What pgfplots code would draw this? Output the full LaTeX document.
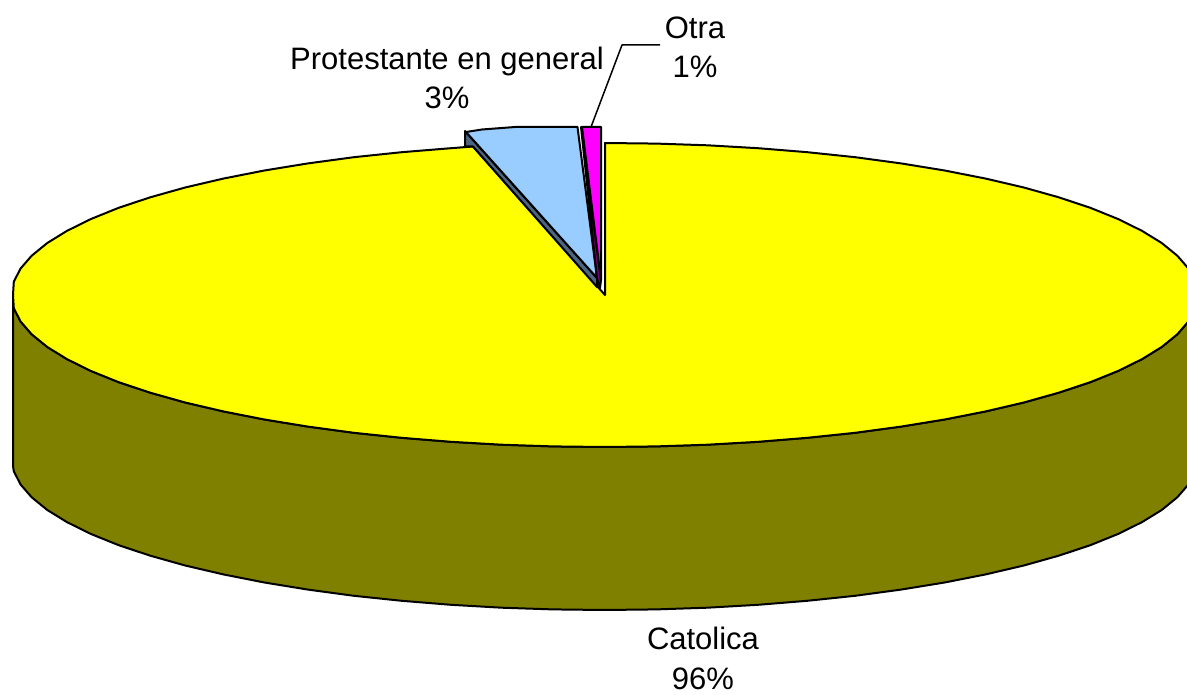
\documentclass[border=0pt]{standalone}
\usepackage{fontspec}
\setmainfont{Liberation Sans}
\usepackage{pgfplots}
\pgfplotsset{compat=1.18}
\definecolor{catTop}{RGB}{255,255,0}
\definecolor{catSide}{RGB}{128,128,0}
\definecolor{proTop}{RGB}{153,204,255}
\definecolor{proSide}{RGB}{77,102,128}
\definecolor{otrTop}{RGB}{255,0,255}
\definecolor{otrSide}{RGB}{128,0,128}

\begin{document}
\begin{tikzpicture}
\path[use as bounding box] (0,0) rectangle (1187pt,695pt);
\begin{axis}[
    scale only axis,
    width=1187pt,
    height=695pt,
    xmin=0, xmax=1187,
    ymin=0, ymax=695,
    y dir=reverse,
    hide axis,
    clip=true,
    every axis plot/.append style={draw=black, line width=2pt, line join=round},
]
% side wall of the large slice
\addplot[fill=catSide] coordinates {
    (13,295) (13.8,308.2) (20.5,321.4) (31.7,334.3) (47.3,347) (67.1,359.2) (91,371)
    (118.7,382.2) (150.3,392.7) (185.2,402.5) (223.3,411.4) (264.4,419.5) (308,426.6)
    (353.9,432.8) (401.7,437.8) (451,441.8) (501.6,444.7) (552.8,446.4) (604.5,447)
    (656.2,446.4) (707.4,444.7) (758,441.8) (807.3,437.8) (855.1,432.8) (901,426.6)
    (944.6,419.5) (985.7,411.4) (1023.8,402.5) (1058.7,392.7) (1090.3,382.2) (1118,371)
    (1141.9,359.2) (1161.7,347) (1177.3,334.3) (1188.5,321.4) (1195.2,308.2) (1197.5,295)
    (1197.5,458) (1195.2,471.2) (1188.5,484.4) (1177.3,497.3) (1161.7,510) (1141.9,522.2)
    (1118,534) (1090.3,545.2) (1058.7,555.7) (1023.8,565.5) (985.7,574.4) (944.6,582.5)
    (901,589.6) (855.1,595.8) (807.3,600.8) (758,604.8) (707.4,607.7) (656.2,609.4)
    (604.5,610) (552.8,609.4) (501.6,607.7) (451,604.8) (401.7,600.8) (353.9,595.8)
    (308,589.6) (264.4,582.5) (223.3,574.4) (185.2,565.5) (150.3,555.7) (118.7,545.2)
    (91,534) (67.1,522.2) (47.3,510) (31.7,497.3) (20.5,484.4) (13.8,471.2) (13,466)
} -- cycle;
% top of the large slice
\addplot[fill=catTop] coordinates {
    (605,295) (605,143) (656.2,143.6) (707.4,145.3) (758,148.2) (807.3,152.2) (855.1,157.2)
    (901,163.4) (944.6,170.5) (985.7,178.6) (1023.8,187.5) (1058.7,197.3) (1090.3,207.8)
    (1118,219) (1141.9,230.8) (1161.7,243) (1177.3,255.7) (1188.5,268.6) (1195.2,281.8)
    (1197.5,295) (1195.2,308.2) (1188.5,321.4) (1177.3,334.3) (1161.7,347) (1141.9,359.2)
    (1118,371) (1090.3,382.2) (1058.7,392.7) (1023.8,402.5) (985.7,411.4) (944.6,419.5)
    (901,426.6) (855.1,432.8) (807.3,437.8) (758,441.8) (707.4,444.7) (656.2,446.4)
    (604.5,447) (552.8,446.4) (501.6,444.7) (451,441.8) (401.7,437.8) (353.9,432.8)
    (308,426.6) (264.4,419.5) (223.3,411.4) (185.2,402.5) (150.3,392.7) (118.7,382.2)
    (91,371) (67.1,359.2) (47.3,347) (31.7,334.3) (20.5,321.4) (13.8,308.2) (13,295)
    (13.8,281.8) (20.5,268.6) (31.7,255.7) (47.3,243) (67.1,230.8) (91,219) (118.7,207.8)
    (150.3,197.3) (185.2,187.5) (223.3,178.6) (264.4,170.5) (308,163.4) (353.9,157.2)
    (401.7,152.2) (451,148.2) (473,146.5)
} -- cycle;
% protestante slice
\addplot[fill=proSide] coordinates {(465,131) (465,146.5) (473,146.5) (597,287) (597,278)} -- cycle;
\addplot[fill=proTop] coordinates {(466,132) (482,129.5) (515,127) (577.5,127) (597,278)} -- cycle;
% otra slice
\addplot[fill=otrSide] coordinates {(581,127) (597,278) (600,288) (601,280)} -- cycle;
\addplot[fill=otrTop] coordinates {(582,127) (601,127) (601,280)} -- cycle;
% leader line of the small slice
\addplot[line width=1.5pt] coordinates {(660,45) (622,45) (591,127)};
\end{axis}
\begin{axis}[
    scale only axis,
    width=1187pt,
    height=695pt,
    xmin=0, xmax=1187,
    ymin=0, ymax=695,
    y dir=reverse,
    hide axis,
    clip=false,
]
\node[align=center, font=\fontsize{31}{39}\selectfont] at (axis cs:447,78) {Protestante en general\\3\%};
\node[align=center, font=\fontsize{31}{39}\selectfont] at (axis cs:695,47) {Otra\\1\%};
\node[align=center, font=\fontsize{31}{40}\selectfont] at (axis cs:703,658) {Catolica\\96\%};
\end{axis}
\end{tikzpicture}
\end{document}
